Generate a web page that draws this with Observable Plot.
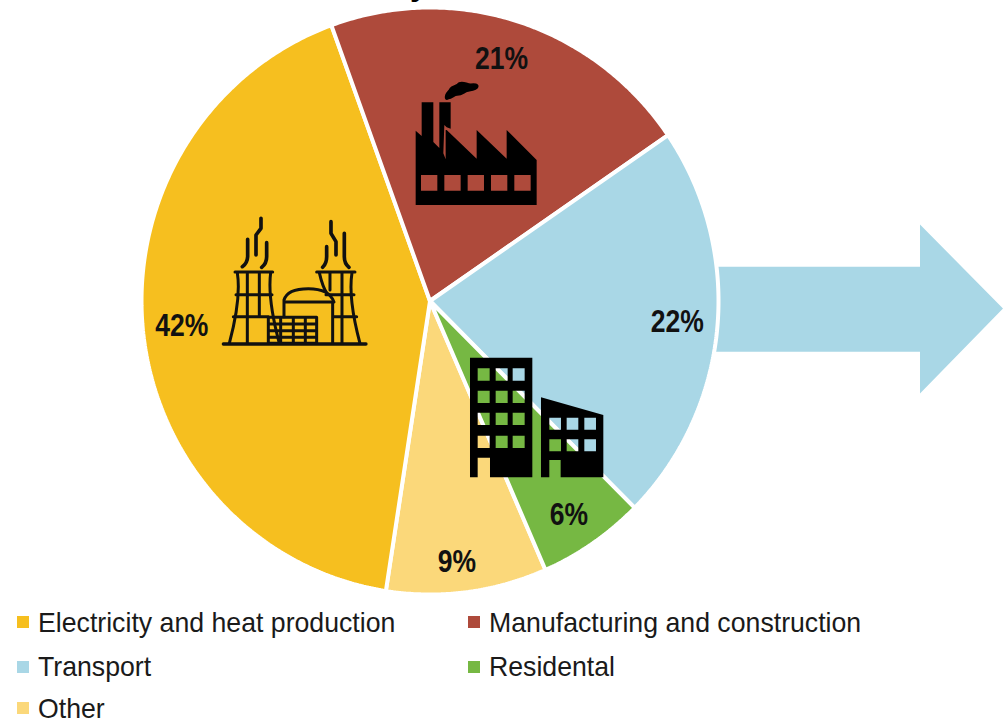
<!DOCTYPE html>
<html>
<head>
<meta charset="utf-8">
<script src="https://cdn.jsdelivr.net/npm/d3@7"></script>
<script src="https://cdn.jsdelivr.net/npm/@observablehq/plot@0.6"></script>
<style>
  html, body { margin: 0; padding: 0; background: #fff; overflow: hidden; }
  #chart svg { display: block; }
  #legend {
    display: grid;
    grid-template-columns: 451px 500px;
    grid-auto-rows: 44.5px;
    padding-left: 17px;
    font: 28.5px "Liberation Sans", sans-serif;
    color: #1a1a1a;
  }
  #legend div { display: flex; align-items: center; white-space: nowrap; height: 44.5px; }
  #legend div:nth-child(5) { position: relative; top: -3px; }
  #legend i { width: 12px; height: 12px; margin-right: 9px; flex: none; }
  #legend span { display: inline-block; transform: scaleX(0.936); transform-origin: left center; }
</style>
</head>
<body>
<div id="chart"></div>
<div id="legend"></div>
<script>
// Shares of emissions by sector, in legend order
const sectors = ["Electricity and heat production", "Manufacturing and construction", "Transport", "Residental", "Other"];
const shares = [42, 21, 22, 6, 9];
const sectorColors = ["#f6bf1f", "#ae4a3b", "#a9d7e6", "#76b843", "#fbd87a"];

// Clockwise drawing order around the pie, and where it begins (degrees from north)
const sliceOrder = ["Other", "Electricity and heat production", "Manufacturing and construction", "Transport", "Residental"];
const startAngle = 156.4;

// Label placement as a fraction of the radius plus a small turn off the slice's middle
const labelRadius = {"Electricity and heat production": 0.865, "Manufacturing and construction": 0.862, "Transport": 0.86, "Residental": 0.873, "Other": 0.893};
const labelTurn = {"Electricity and heat production": -0.1, "Manufacturing and construction": -1.1, "Transport": -0.4, "Residental": 0.9, "Other": 1.4};

const toXY = (deg, r) => [r * Math.sin(deg * Math.PI / 180), r * Math.cos(deg * Math.PI / 180)];

// Turn each share into a closed outline in unit-circle coordinates
const outlines = [];
const labels = [];
let cursor = startAngle;
for (const sector of sliceOrder) {
  const share = shares[sectors.indexOf(sector)];
  const sweep = share / 100 * 360;
  const apex = {sector, x: 0, y: 0};
  outlines.push(apex);
  const steps = Math.ceil(sweep * 2);
  for (let i = 0; i <= steps; ++i) {
    const [x, y] = toXY(cursor + sweep * i / steps, 1);
    outlines.push({sector, x, y});
  }
  outlines.push(apex);
  const [lx, ly] = toXY(cursor + sweep / 2 + labelTurn[sector], labelRadius[sector]);
  labels.push({sector, x: lx, y: ly, text: `${share}%`});
  cursor += sweep;
}

const svgNS = "http://www.w3.org/2000/svg";
function pathEl(d, attrs) {
  const p = document.createElementNS(svgNS, "path");
  p.setAttribute("d", d);
  for (const k in attrs) p.setAttribute(k, attrs[k]);
  return p;
}
function groupEl(transform, children) {
  const g = document.createElementNS(svgNS, "g");
  if (transform) g.setAttribute("transform", transform);
  children.forEach(c => g.appendChild(c));
  return g;
}
function holes(xs, ys, w, h) {
  let d = "";
  for (const y of ys) for (const x of xs) d += `M${x} ${y}h${w}v${h}h${-w}Z`;
  return d;
}

// Arrow pointing out of the transport slice
const arrow = () => pathEl("M717 266.7H920V224.5L1003 308.5L920 393.5V351.7H715Q718 309 717 266.7Z", {fill: "#a9d7e6"});

// Factory pictogram with see-through windows
const factory = () => groupEl("translate(400,70) scale(0.3333)", [
  pathEl("M47 182L65 198V97H100V216L118 234V97H152V176L140 172L133 165L130 250L137 268V180L140 180L230 266V180L320 266V180L410 270V405H47Z" +
    "M63 315V362H112V315ZM133 315V362H182V315ZM203 315V362H252V315ZM273 315V362H322V315ZM343 315V362H392V315Z",
    {fill: "#000", "fill-rule": "evenodd"}),
  pathEl("M138 84C136 70 148 66 152 56C158 48 170 50 178 40C190 34 200 44 212 44C224 42 234 44 232 50C230 58 214 60 204 62C192 64 188 74 172 74C162 74 156 84 146 84C142 86 139 88 138 84Z",
    {fill: "#000", stroke: "#000", "stroke-width": 7, "stroke-linejoin": "round"})
]);

// Twin cooling towers and reactor, drawn as line work
const plant = () => {
  const line = {fill: "none", stroke: "#111", "stroke-width": 9, "stroke-linecap": "round", "stroke-linejoin": "round"};
  const smoke = {...line, "stroke-width": 11};
  return groupEl("translate(200,200) scale(0.3333)", [
    pathEl("M70 432H498", {...line, "stroke-width": 10}),
    pathEl("M105 216H218M112 218Q124 295 88 430M212 218Q202 295 238 430M142 218V430M178 218V350M108 284H216M100 350H205", line),
    pathEl("M350 216H465M358 218Q368 262 382 282M456 218Q444 295 480 430M390 218V270M426 218V430M378 284H462M400 350H470", line),
    pathEl("M252 350V300Q262 266 325 266Q388 266 402 306H252M398 306V430", line),
    pathEl("M205 352H350V430H205ZM205 372H350M205 392H350M205 412H350M242 352V430M280 352V430M316 352V430", line),
    pathEl("M127 200Q142 190 143 170V118M168 165V105L183 85V55M185 202Q200 190 200 170V128", smoke),
    pathEl("M368 202Q380 190 380 170V140M408 165V125L393 100V65M447 202Q433 190 433 170V100", smoke)
  ]);
};

// Office and apartment pictogram with see-through windows
const buildings = () => groupEl("translate(455,345) scale(0.3333)", [
  pathEl("M45 38H232V397H105V338H68V397H45Z" + holes([68, 122, 173], [70, 137, 203, 272], 36, 37) +
    "M258 157L445 210V397H317V345H283V397H258Z" + holes([283, 335, 388], [218, 283], 35, 36),
    {fill: "#000", "fill-rule": "evenodd"})
]);

// Descender of the heading line above the frame
const headingTail = () => {
  const t = document.createElementNS(svgNS, "text");
  t.setAttribute("x", 419);
  t.setAttribute("y", -5);
  t.setAttribute("text-anchor", "middle");
  t.setAttribute("font-family", "Liberation Sans, sans-serif");
  t.setAttribute("font-weight", "bold");
  t.setAttribute("font-size", 32);
  t.textContent = "y";
  return t;
};

const chart = Plot.plot({
  width: 1003,
  height: 600,
  margin: 0,
  style: {background: "transparent", overflow: "hidden"},
  x: {domain: [-1, 1], range: [141, 718], axis: null},
  y: {domain: [-1, 1], range: [594, 7], axis: null},
  color: {domain: sectors, range: sectorColors},
  marks: [
    () => arrow(),
    Plot.line(outlines, {x: "x", y: "y", z: "sector", fill: "sector", stroke: "#fff", strokeWidth: 4, strokeLinejoin: "miter", curve: "linear"}),
    () => groupEl(null, [plant(), factory(), buildings(), headingTail()]),
    Plot.text(labels, {
      x: "x", y: "y", text: "text",
      fontFamily: "Liberation Sans, sans-serif",
      fontWeight: "bold", fontSize: 31, fill: "#111"
    })
  ]
});
document.getElementById("chart").appendChild(chart);

// Narrow the percentage labels to the condensed look of the chart's type
chart.querySelectorAll('g[aria-label="text"] text').forEach(t => {
  t.setAttribute("textLength", (t.getComputedTextLength() * 0.855).toFixed(1));
  t.setAttribute("lengthAdjust", "spacingAndGlyphs");
});

// Legend below the chart, two columns filled row by row
const legend = document.getElementById("legend");
sectors.forEach((name, i) => {
  const row = document.createElement("div");
  const swatch = document.createElement("i");
  swatch.style.background = sectorColors[i];
  const label = document.createElement("span");
  label.textContent = name;
  row.appendChild(swatch);
  row.appendChild(label);
  legend.appendChild(row);
});
</script>
</body>
</html>
